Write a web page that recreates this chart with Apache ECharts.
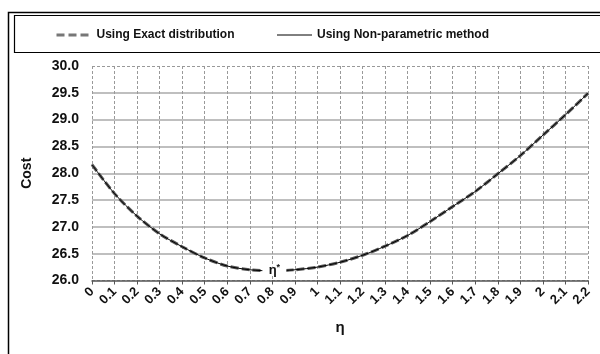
<!DOCTYPE html>
<html>
<head>
<meta charset="utf-8">
<script src="https://cdn.jsdelivr.net/npm/echarts@6/dist/echarts.min.js"></script>
<style>
html,body{margin:0;padding:0;background:#fff;}
#chart{width:600px;height:354px;}
</style>
</head>
<body>
<div id="chart"></div>
<script>
var categories = ['0','0.1','0.2','0.3','0.4','0.5','0.6','0.7','0.8','0.9','1','1.1','1.2','1.3','1.4','1.5','1.6','1.7','1.8','1.9','2','2.1','2.2'];
var exactCost = [28.16,27.62,27.20,26.87,26.63,26.42,26.27,26.20,26.18,26.20,26.25,26.34,26.47,26.64,26.84,27.10,27.38,27.66,27.99,28.33,28.71,29.09,29.49];
var nonParamCost = [28.16,27.62,27.20,26.87,26.63,26.42,26.27,26.20,26.18,26.20,26.25,26.34,26.47,26.64,26.84,27.10,27.38,27.66,27.99,28.33,28.71,29.09,29.49];
var yTicks = [26.0,26.5,27.0,27.5,28.0,28.5,29.0,29.5,30.0];
var optimumCategory = '0.8';
var optimumValue = 26.18;

var FONT = 'Liberation Sans, Arial, sans-serif';
var chart = echarts.init(document.getElementById('chart'));
var hColors = yTicks.map(function(v, i){ return (i === 0 || i === yTicks.length - 1) ? 'rgba(0,0,0,0)' : '#aaaaaa'; });

chart.setOption({
  animation: false,
  backgroundColor: '#ffffff',
  textStyle: {fontFamily: FONT},
  graphic: [
    {type: 'rect', left: 6, top: 10, shape: {width: 620, height: 360}, style: {fill: 'none', stroke: '#000', lineWidth: 1.5}, z: -1},
    {type: 'rect', left: 12, top: 13, shape: {width: 620, height: 37}, style: {fill: 'none', stroke: '#000', lineWidth: 1.2}, z: -1}
  ],
  legend: {
    left: 50, top: 24,
    itemWidth: 35, itemHeight: 12, itemGap: 42,
    itemStyle: {opacity: 0},
    textStyle: {fontFamily: FONT, fontWeight: 'bold', fontSize: 12, color: '#111'},
    data: [
      {name: 'Using Exact distribution', lineStyle: {width: 3, color: '#777', type: [8, 4]}},
      {name: 'Using Non-parametric method', lineStyle: {width: 1, color: '#000'}}
    ]
  },
  grid: {left: 92, right: 12, top: 66, bottom: 73.5},
  xAxis: {
    type: 'category',
    data: categories,
    boundaryGap: false,
    name: 'η',
    nameLocation: 'middle',
    nameGap: 40,
    nameTextStyle: {fontFamily: FONT, fontWeight: 'bold', fontSize: 15, color: '#111'},
    axisLine: {show: true, lineStyle: {color: '#555', width: 1.5}},
    axisTick: {show: true, length: 4, alignWithLabel: true, lineStyle: {color: '#555'}},
    axisLabel: {rotate: 45, margin: 9, interval: 0, fontFamily: FONT, fontWeight: 'bold', fontSize: 13, color: '#111'},
    splitLine: {show: true, interval: 0, lineStyle: {color: '#999', type: [3, 2], width: 1}}
  },
  yAxis: [{
    type: 'value',
    min: 26, max: 30, interval: 0.5,
    name: 'Cost',
    nameLocation: 'middle',
    nameGap: 58,
    nameRotate: 90,
    nameTextStyle: {fontFamily: FONT, fontWeight: 'bold', fontSize: 14, color: '#111'},
    axisLine: {show: false},
    axisTick: {show: false},
    axisLabel: {margin: 13, fontFamily: FONT, fontWeight: 'bold', fontSize: 14, color: '#111',
      formatter: function(v){ return v.toFixed(1); }},
    splitLine: {show: true, lineStyle: {color: hColors, width: 1.5}}
  }, {
    type: 'value',
    min: 26, max: 30, interval: 4,
    position: 'left',
    axisLine: {show: false}, axisTick: {show: false}, axisLabel: {show: false},
    splitLine: {show: true, lineStyle: {color: '#999', type: [3, 2], width: 1}}
  }],
  series: [
    {
      name: 'Using Exact distribution',
      type: 'line',
      data: exactCost,
      symbol: 'none',
      smooth: 0.3,
      lineStyle: {color: '#555', width: 3, type: [8, 3]},
      itemStyle: {color: '#555'},
      z: 3
    },
    {
      name: 'Using Non-parametric method',
      type: 'line',
      data: nonParamCost,
      symbol: 'none',
      smooth: 0.3,
      lineStyle: {color: '#000', width: 1},
      itemStyle: {color: '#000'},
      z: 4,
      markPoint: {
        symbol: 'rect',
        symbolSize: [24, 9],
        symbolOffset: [2, 0],
        itemStyle: {color: '#fff', opacity: 1},
        label: {
          show: true,
          position: 'inside',
          formatter: '{a|η}{b|*}',
          rich: {
            a: {fontFamily: FONT, fontWeight: 'bold', fontSize: 13, color: '#111'},
            b: {fontFamily: FONT, fontWeight: 'bold', fontSize: 9, color: '#111', verticalAlign: 'top', padding: [0, 0, 6, 0]}
          }
        },
        data: [{coord: [optimumCategory, optimumValue]}]
      }
    }
  ]
});
</script>
</body>
</html>
